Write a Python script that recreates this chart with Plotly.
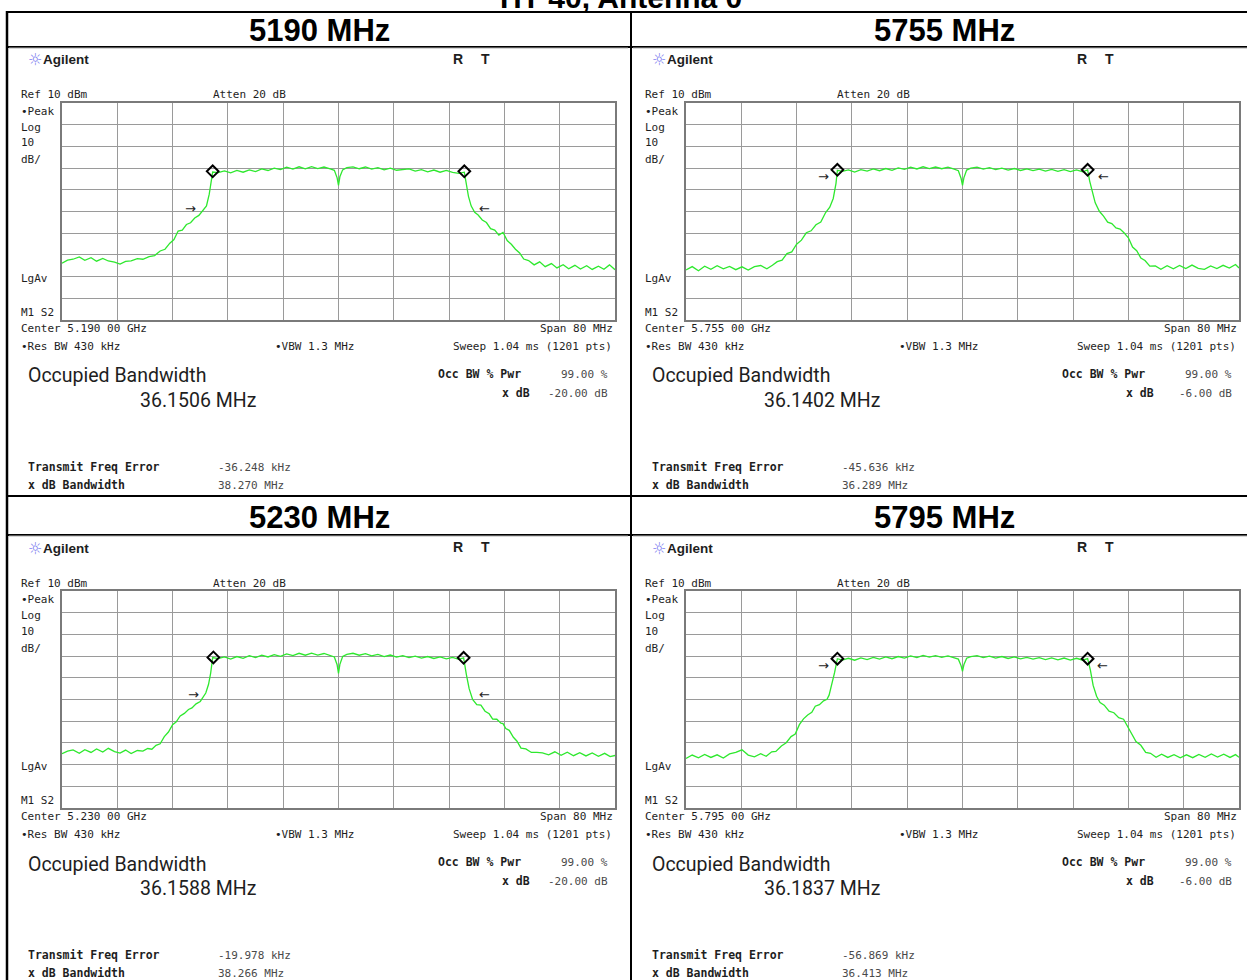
import plotly.graph_objects as go

W, H = 1247, 980

# ---------------- data ----------------
PAGE_TITLE = "HT 40, Antenna 0"
PANEL_TITLES = ["5190 MHz", "5755 MHz", "5230 MHz", "5795 MHz"]
CENTER_LABELS = ["Center 5.190 00 GHz", "Center 5.755 00 GHz", "Center 5.230 00 GHz", "Center 5.795 00 GHz"]
OCC_BW = ["36.1506 MHz", "36.1402 MHz", "36.1588 MHz", "36.1837 MHz"]
XDB = ["-20.00 dB", "-6.00 dB", "-20.00 dB", "-6.00 dB"]
FREQ_ERR = ["-36.248 kHz", "-45.636 kHz", "-19.978 kHz", "-56.869 kHz"]
XDB_BW = ["38.270 MHz", "36.289 MHz", "38.266 MHz", "36.413 MHz"]

# frequency offset from centre (MHz), level (dBm)
FLAT_F = [-17.4, -16.5, -15.6, -14.7, -13.8, -12.9, -12.0, -11.1, -10.2, -9.3,
          -8.4, -7.5, -6.6, -5.7, -4.8, -3.9, -3.0, -2.1, -1.2, -0.6,
          -0.2, 0.0, 0.2, 0.6, 1.2, 2.1, 3.0, 3.9, 4.8, 5.7,
          6.6, 7.5, 8.4, 9.3, 10.2, 11.1, 12.0, 12.9, 13.8, 14.7,
          15.6, 16.5, 17.4]

F_5190 = [-40.0, -39.2, -38.4, -37.5, -36.7, -35.8, -35.0, -34.1, -33.3, -32.4,
          -31.6, -30.8, -30.0, -29.1, -28.3, -27.4, -26.6, -25.8, -25.1, -24.4,
          -23.8, -23.2, -22.6, -22.0, -21.4, -20.8, -20.2, -19.6, -19.1, -18.7,
          -18.4, -18.2] + FLAT_F + [18.2,
          18.5, 18.8, 19.2, 19.7, 20.2, 20.8, 21.4, 22.0, 22.6, 23.2,
          23.8, 24.4, 25.0, 25.6, 26.2, 26.8, 27.5, 28.3, 29.1, 29.9,
          30.8, 31.6, 32.5, 33.3, 34.2, 35.0, 35.9, 36.7, 37.6, 38.4,
          39.2, 40.0]
L_5190 = [-63.8, -62.4, -62.0, -60.9, -62.5, -61.3, -62.9, -61.6, -62.8, -63.3,
          -64.2, -63.0, -62.8, -61.7, -62.0, -60.8, -60.3, -58.2, -57.4, -54.6,
          -52.9, -49.0, -48.6, -46.0, -45.2, -43.0, -41.8, -39.1, -37.4, -32.0,
          -26.0, -21.8,
          -22.1, -21.3, -22.2, -21.1, -21.9, -20.8, -21.6, -20.4, -21.1, -20.0,
          -20.7, -19.6, -20.5, -19.4, -20.3, -19.3, -20.2, -19.5, -20.4, -21.0,
          -24.5, -28.0, -24.0, -20.8, -19.8, -19.4, -20.3, -19.5, -20.5, -19.8,
          -20.8, -20.0, -21.0, -20.7, -20.4, -21.4, -20.7, -21.7, -20.9, -21.9,
          -21.1, -22.0, -22.4, -21.9,
          -27.0, -33.0, -37.5, -40.4, -41.6, -43.9, -45.1, -47.9, -48.6, -50.9,
          -49.6, -53.4, -55.1, -57.4, -59.1, -61.9, -62.6, -64.6, -63.2, -65.4,
          -64.0, -66.0, -64.5, -66.4, -64.8, -66.5, -65.0, -66.7, -65.2, -66.6,
          -64.6, -66.8]

F_5755 = [-40.0, -39.1, -38.2, -37.3, -36.4, -35.5, -34.6, -33.7, -32.8, -31.9,
          -31.0, -30.1, -29.2, -28.3, -27.5, -26.8, -26.1, -25.4, -24.7, -24.0,
          -23.3, -22.6, -21.9, -21.2, -20.5, -19.8, -19.2, -18.7, -18.3, -18.1] + FLAT_F + [18.1,
          18.4, 18.8, 19.2, 19.8, 20.4, 21.0, 21.6, 22.2, 22.8, 23.4,
          24.0, 24.6, 25.2, 25.8, 26.4, 27.1, 27.9, 28.7, 29.6, 30.5,
          31.4, 32.3, 33.2, 34.1, 35.0, 35.9, 36.8, 37.7, 38.6, 39.5,
          40.0]
L_5755 = [-66.9, -65.4, -67.3, -65.2, -66.6, -65.0, -66.4, -65.3, -66.8, -65.5,
          -67.0, -65.4, -64.9, -66.4, -64.8, -63.1, -62.4, -59.4, -58.6, -55.1,
          -53.2, -49.8, -48.9, -46.1, -44.9, -40.5, -38.0, -34.0, -27.0, -21.0,
          -21.5, -20.8, -21.8, -20.7, -21.4, -20.4, -21.2, -20.2, -21.0, -19.9,
          -20.6, -19.6, -20.4, -19.4, -20.2, -19.5, -20.3, -19.6, -20.5, -21.2,
          -24.8, -28.0, -24.5, -20.9, -20.0, -19.6, -20.5, -19.8, -20.7, -20.0,
          -20.9, -20.2, -21.1, -20.4, -21.2, -20.5, -21.4, -20.6, -21.5, -20.7,
          -21.6, -20.8, -21.7, -20.8,
          -26.0, -31.5, -36.0, -39.9, -42.1, -44.9, -45.6, -47.6, -48.1, -49.9,
          -52.1, -56.4, -58.1, -61.4, -62.6, -65.2, -65.1, -66.6, -65.0, -66.4,
          -64.9, -66.3, -64.7, -66.2, -66.7, -65.1, -66.3, -64.8, -66.1, -64.4,
          -66.0]

F_5230 = [-40.0, -39.2, -38.4, -37.5, -36.7, -35.8, -35.0, -34.1, -33.3, -32.4,
          -31.6, -30.8, -30.0, -29.1, -28.3, -27.6, -27.0, -26.4, -25.8, -25.2,
          -24.6, -24.0, -23.5, -22.9, -22.3, -21.7, -21.2, -20.6, -20.0, -19.5,
          -19.2, -18.8, -18.5, -18.2] + FLAT_F + [18.1,
          18.5, 18.9, 19.4, 20.0, 20.6, 21.2, 21.8, 22.3, 22.9, 23.5,
          23.8, 24.2, 24.7, 25.3, 25.8, 26.4, 27.1, 27.9, 28.7, 29.5,
          30.4, 31.3, 32.2, 33.1, 34.0, 34.9, 35.8, 36.7, 37.6, 38.5,
          39.3, 40.0]
L_5230 = [-65.0, -63.8, -63.2, -64.8, -63.1, -64.4, -62.8, -64.2, -62.5, -64.0,
          -64.7, -63.3, -64.9, -63.5, -63.8, -62.6, -62.9, -61.1, -60.4, -57.1,
          -55.0, -51.6, -50.4, -47.6, -46.4, -44.6, -43.9, -42.0, -40.9, -38.1,
          -37.0, -33.0, -28.0, -20.7,
          -21.2, -20.4, -21.4, -20.2, -21.0, -19.8, -20.7, -19.6, -20.4, -19.3,
          -20.1, -19.0, -19.8, -18.7, -19.6, -18.6, -19.5, -18.8, -19.7, -20.4,
          -24.0, -28.0, -23.8, -20.2, -19.2, -18.7, -19.6, -18.9, -19.9, -19.2,
          -20.2, -19.5, -20.5, -19.8, -20.7, -20.0, -20.9, -20.2, -21.1, -20.4,
          -21.3, -20.6, -21.5, -20.8,
          -28.5, -35.0, -40.0, -42.4, -42.6, -45.4, -46.6, -49.0, -49.1, -50.9,
          -51.1, -53.4, -54.2, -57.4, -59.1, -62.4, -62.8, -64.4, -64.4, -64.6,
          -65.5, -64.1, -65.7, -64.3, -65.9, -64.5, -66.0, -64.6, -66.2, -64.8,
          -66.3, -65.8]

F_5795 = [-40.0, -39.1, -38.2, -37.3, -36.4, -35.5, -34.6, -33.7, -32.8, -31.9,
          -31.0, -30.1, -29.2, -28.4, -27.6, -27.0, -26.2, -25.5, -24.8, -24.2,
          -23.6, -23.0, -22.4, -21.8, -21.3, -20.7, -20.1, -19.6, -19.3, -18.9,
          -18.5, -18.1] + FLAT_F + [18.1,
          18.5, 18.9, 19.4, 19.9, 20.5, 21.2, 21.9, 22.6, 23.3, 23.9,
          24.5, 25.1, 25.8, 26.5, 27.2, 28.0, 28.8, 29.7, 30.6, 31.5,
          32.4, 33.3, 34.2, 35.1, 36.0, 36.9, 37.8, 38.7, 39.5, 40.0]
L_5795 = [-67.2, -65.6, -66.9, -65.3, -66.7, -65.5, -67.0, -65.1, -64.4, -63.2,
          -65.6, -66.4, -65.0, -66.2, -64.1, -63.9, -61.4, -59.9, -57.1, -55.9,
          -51.6, -48.9, -47.1, -45.9, -43.1, -42.4, -40.6, -39.9, -38.0, -33.0,
          -27.5, -21.2,
          -21.8, -21.0, -21.9, -20.8, -21.6, -20.6, -21.4, -20.4, -21.2, -20.2,
          -20.9, -19.9, -20.7, -19.7, -20.5, -19.8, -20.6, -19.9, -20.8, -21.4,
          -24.5, -27.0, -24.0, -21.0, -20.2, -19.8, -20.7, -20.0, -20.9, -20.2,
          -21.1, -20.4, -21.3, -20.6, -21.4, -20.7, -21.6, -20.8, -21.7, -20.9,
          -21.8, -21.0, -21.9, -21.2,
          -26.5, -33.5, -38.5, -41.4, -42.6, -45.4, -46.1, -48.4, -49.1, -52.4,
          -56.1, -59.4, -61.1, -64.4, -64.8, -66.6, -65.2, -66.7, -65.4, -66.9,
          -65.5, -66.8, -65.3, -66.6, -65.1, -66.5, -65.2, -66.7, -65.4, -66.6]

# diamond markers (MHz, dBm)
MARK_F = [[-18.2, 18.2], [-18.1, 18.1], [-18.1, 18.1], [-18.1, 18.1]]
MARK_L = [[-21.5, -21.5], [-20.8, -20.8], [-20.6, -20.8], [-21.2, -21.2]]
# x dB arrows: (left f, right f, level)
ARROW_LEFT_F = [-21.4, -20.1, -21.0, -20.1]
ARROW_RIGHT_F = [21.1, 20.4, 21.1, 20.2]
ARROW_L = [-38.5, -24.0, -37.8, -24.4]

TRACES_F = [F_5190, F_5755, F_5230, F_5795]
TRACES_L = [L_5190, L_5755, L_5230, L_5795]

# ---------------- layout helpers ----------------
MONO = "DejaVu Sans Mono"
SANS = "Liberation Sans, Arial"
TXT = "#1e1e1e"
VAL = "#4a4a4a"


def px(x):
    return x / W


def py(y):
    return 1 - y / H


fig = go.Figure()
annotations = []
shapes = []


def txt(x, y, s, size=11, anchor="left", family=MONO, color=TXT):
    annotations.append(dict(x=px(x), y=py(y), xref="paper", yref="paper", text=s,
                            showarrow=False, xanchor=anchor, yanchor="middle",
                            font=dict(family=family, size=size, color=color)))


def hline(y, x0, x1, w=2, c="black"):
    shapes.append(dict(type="line", xref="paper", yref="paper", x0=px(x0), x1=px(x1),
                       y0=py(y), y1=py(y), line=dict(color=c, width=w)))


def vline(x, y0, y1, w=2, c="black"):
    shapes.append(dict(type="line", xref="paper", yref="paper", x0=px(x), x1=px(x),
                       y0=py(y0), y1=py(y1), line=dict(color=c, width=w)))


# table frame
hline(12, 6, 1260)
hline(47, 6, 1260)
hline(496, 6, 1260)
hline(535, 6, 1260)
vline(7, 11, 990, w=2.5)
vline(631, 11, 990, w=2)

# page title (mostly cut off at top, as in the source page)
txt(621, -3, "<b>" + PAGE_TITLE + "</b>", size=30, anchor="center", family=SANS, color="black")

offsets = [(0, 0), (624, 0), (0, 488), (624, 488)]
header_y = [30, 30, 517, 517]
header_x = [319, 944, 319, 944]

for i in range(4):
    dx, dy = offsets[i]
    ax = "" if i == 0 else str(i + 1)
    # header
    txt(header_x[i], header_y[i], "<b>" + PANEL_TITLES[i] + "</b>", size=31, anchor="center",
        family=SANS, color="black")
    # screenshot top edge
    hline(48 + dy, 9 + dx, 628 + dx, w=1, c="#b0b0b0")
    # logo row
    txt(26 + dx, 60 + dy, "☼", size=16, family="DejaVu Sans", color="#7f7ff0")
    txt(41 + dx, 60 + dy, "<b>Agilent</b>", size=13.5, family=SANS)
    txt(451 + dx, 59 + dy, "<b>R</b>", size=14, family=SANS)
    txt(479 + dx, 59 + dy, "<b>T</b>", size=14, family=SANS)
    # left labels
    txt(19 + dx, 95 + dy, "Ref 10 dBm")
    txt(211 + dx, 95 + dy, "Atten 20 dB")
    txt(19 + dx, 111 + dy, "•Peak")
    txt(19 + dx, 127 + dy, "Log")
    txt(19 + dx, 143 + dy, "10")
    txt(19 + dx, 160 + dy, "dB/")
    txt(19 + dx, 278 + dy, "LgAv")
    txt(19 + dx, 312 + dy, "M1 S2")
    # below grid
    txt(19 + dx, 328 + dy, CENTER_LABELS[i])
    txt(615 + dx, 328 + dy, "Span 80 MHz", anchor="right")
    txt(19 + dx, 346 + dy, "•Res BW 430 kHz")
    txt(273 + dx, 346 + dy, "•VBW 1.3 MHz")
    txt(614 + dx, 346 + dy, "Sweep 1.04 ms (1201 pts)", anchor="right")
    txt(26 + dx, 376 + dy, "Occupied Bandwidth", size=19.5, family="Roboto")
    txt(138 + dx, 400 + dy, OCC_BW[i], size=19.5, family="Roboto")
    txt(436 + dx, 374 + dy, "<b>Occ BW % Pwr</b>", size=11.5)
    txt(610 + dx, 374 + dy, "99.00 %", anchor="right", color=VAL)
    txt(532 + dx, 393 + dy, "<b>x dB</b>", size=11.5, anchor="right")
    txt(610 + dx, 393 + dy, XDB[i], anchor="right", color=VAL)
    txt(26 + dx, 467 + dy, "<b>Transmit Freq Error</b>", size=11.5)
    txt(216 + dx, 467 + dy, FREQ_ERR[i], color=VAL)
    txt(26 + dx, 485 + dy, "<b>x dB Bandwidth</b>", size=11.5)
    txt(216 + dx, 485 + dy, XDB_BW[i], color=VAL)

    # axes (graticule)
    x0, x1 = 62 + dx, 615 + dx
    y0, y1 = 103 + dy, 320 + dy
    fig.layout["xaxis" + ax] = dict(domain=[px(x0), px(x1)], range=[-40, 40], tick0=-40, dtick=8,
                                    showgrid=True, gridcolor="#9a9a9a", gridwidth=1,
                                    showline=True, mirror=True, linecolor="#7a7a7a", linewidth=1.5,
                                    zeroline=False, showticklabels=False, ticks="",
                                    anchor="y" + ax, fixedrange=True)
    fig.layout["yaxis" + ax] = dict(domain=[py(y1), py(y0)], range=[-90, 10], tick0=-90, dtick=10,
                                    showgrid=True, gridcolor="#9a9a9a", gridwidth=1,
                                    showline=True, mirror=True, linecolor="#7a7a7a", linewidth=1.5,
                                    zeroline=False, showticklabels=False, ticks="",
                                    anchor="x" + ax, fixedrange=True)

    fig.add_trace(go.Scatter(x=TRACES_F[i], y=TRACES_L[i], mode="lines",
                             line=dict(color="#2ee82e", width=1.3),
                             xaxis="x" + ax, yaxis="y" + ax, showlegend=False,
                             hoverinfo="skip"))
    fig.add_trace(go.Scatter(x=MARK_F[i], y=MARK_L[i], mode="markers",
                             marker=dict(symbol="diamond-open", size=9, color="black",
                                         line=dict(width=2, color="black")),
                             xaxis="x" + ax, yaxis="y" + ax, showlegend=False,
                             hoverinfo="skip"))
    for f, s in ((ARROW_LEFT_F[i], "→"), (ARROW_RIGHT_F[i], "←")):
        annotations.append(dict(x=f, y=ARROW_L[i], xref="x" + ax, yref="y" + ax, text=s,
                                showarrow=False, xanchor="center", yanchor="middle",
                                font=dict(family="DejaVu Sans", size=13, color="#222")))

fig.update_layout(width=W, height=H, margin=dict(l=0, r=0, t=0, b=0),
                  paper_bgcolor="white", plot_bgcolor="white",
                  annotations=annotations, shapes=shapes, showlegend=False)

# remove the page's default body margin so the figure fills the window exactly
fig.write_html("out.html", config={"displayModeBar": False},
               post_script="document.body.style.margin='0';")
